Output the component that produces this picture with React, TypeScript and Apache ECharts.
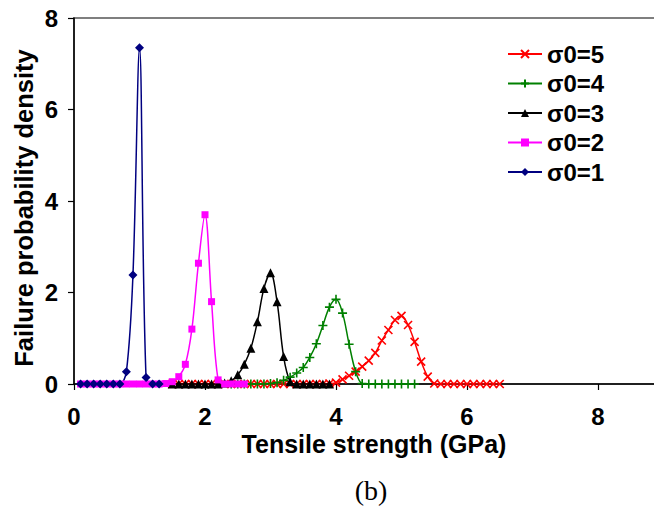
import React, { useEffect, useRef } from "react";
import * as echarts from "echarts";

// σ0=5 (red, x markers)
const s5X = [1.5,1.6,1.7,1.8,1.9,2.0,2.1,2.2,2.3,2.4,2.5,2.6,2.7,2.8,2.9,3.0,3.1,3.2,3.3,3.4,3.5,3.6,3.7,3.8,3.9,4.0,4.1,4.2,4.3,4.4,4.5,4.6,4.7,4.8,4.9,5.0,5.1,5.2,5.3,5.4,5.5,5.6,5.7,5.8,5.9,6.0,6.1,6.2,6.3,6.4,6.5];
const s5Y = [0,0,0,0,0,0,0,0,0,0,0,0,0,0,0,0,0,0,0,0,0,0,0,0,0.01,0.03,0.1,0.18,0.27,0.38,0.51,0.68,0.95,1.18,1.4,1.49,1.29,0.92,0.49,0.16,0.01,0,0,0,0,0,0,0,0,0,0];
// σ0=4 (green, + markers)
const s4X = [2.4,2.5,2.6,2.7,2.8,2.9,3.0,3.1,3.2,3.3,3.4,3.5,3.6,3.7,3.8,3.9,4.0,4.1,4.2,4.3,4.4,4.5,4.6,4.7,4.8,4.9,5.0,5.1,5.2];
const s4Y = [0,0,0,0,0,0,0.01,0.03,0.08,0.15,0.24,0.36,0.58,0.88,1.28,1.68,1.85,1.55,0.87,0.27,0.01,0,0,0,0,0,0,0,0];
// σ0=3 (black, triangles)
const s3X = [1.5,1.6,1.7,1.8,1.9,2.0,2.1,2.2,2.3,2.4,2.5,2.6,2.7,2.8,2.9,3.0,3.1,3.2,3.3,3.4,3.5,3.6,3.7,3.8,3.9];
const s3Y = [0,0,0,0,0,0,0,0,0.02,0.07,0.2,0.43,0.78,1.36,2.09,2.43,1.8,0.6,0.05,0,0,0,0,0,0];
// σ0=2 (magenta, squares)
const s2X = [0.1,0.2,0.3,0.4,0.5,0.6,0.7,0.8,0.9,1.0,1.1,1.2,1.3,1.4,1.5,1.6,1.7,1.8,1.9,2.0,2.1,2.2,2.3,2.4,2.5,2.6];
const s2Y = [0,0,0,0,0,0,0,0,0,0,0,0,0,0.01,0.05,0.16,0.43,1.2,2.64,3.7,1.8,0.09,0,0,0,0];
// σ0=1 (navy, diamonds)
const s1X = [0.1,0.2,0.3,0.4,0.5,0.6,0.7,0.8,0.9,1.0,1.1,1.2,1.3];
const s1Y = [0,0,0,0,0,0,0,0.27,2.38,7.35,0.14,0,0];

const xTicks = { min: 0, max: 10, interval: 2 };
const yTicks = { min: 0, max: 8, interval: 2 };

const FONT = "Liberation Sans";
const CROSS = "path://M0,0L8,8M8,0L0,8";
const PLUS = "path://M4,0L4,8M0,4L8,4";

const pairs = (xs: number[], ys: number[]) => xs.map((x, i) => [x, ys[i]]);

export default function App() {
  const ref = useRef<HTMLDivElement>(null);
  useEffect(() => {
    if (!ref.current) return;
    const chart = echarts.init(ref.current, undefined, { renderer: "svg" });
    const mk = (name: string, xs: number[], ys: number[], color: string, symbol: string, size: number, stroke: boolean) => ({
      name,
      type: "line",
      data: pairs(xs, ys),
      smooth: 0.35,
      symbol,
      symbolSize: size,
      showAllSymbol: true,
      lineStyle: { color, width: 1.5 },
      itemStyle: stroke
        ? { color: color, borderColor: color, borderWidth: 1.6 }
        : { color, borderColor: color, borderWidth: 0 },
      emphasis: { disabled: true },
    });
    chart.setOption({
      animation: false,
      grid: {
        left: 74,
        top: 18,
        width: 655,
        height: 366,
        show: true,
        borderColor: "#555",
        borderWidth: 1.5,
        outerBoundsMode: "none",
        containLabel: false,
      },
      legend: {
        orient: "vertical",
        left: 502,
        top: 37,
        itemWidth: 34,
        itemHeight: 10,
        itemGap: 5.5,
        data: ["σ0=5", "σ0=4", "σ0=3", "σ0=2", "σ0=1"],
        textStyle: { fontFamily: FONT, fontWeight: "bold", fontSize: 24, color: "#000", lineHeight: 24 },
      },
      xAxis: {
        type: "value",
        ...xTicks,
        axisLine: { show: true, onZero: false, lineStyle: { color: "#000", width: 1.5 } },
        axisTick: { show: true, length: 6, lineStyle: { color: "#000", width: 1.2 } },
        axisLabel: { fontFamily: FONT, fontWeight: "bold", fontSize: 24, color: "#000", margin: 20, showMaxLabel: false },
        splitLine: { show: false },
      },
      yAxis: {
        type: "value",
        ...yTicks,
        axisLine: { show: true, lineStyle: { color: "#000", width: 1.5 } },
        axisTick: { show: true, length: 6, lineStyle: { color: "#000", width: 1.2 } },
        axisLabel: { fontFamily: FONT, fontWeight: "bold", fontSize: 24, color: "#000", margin: 16 },
        splitLine: { show: false },
      },
      graphic: [
        {
          type: "text",
          x: 374,
          y: 444,
          style: { text: "Tensile strength (GPa)", fontFamily: FONT, fontWeight: "bold", fontSize: 25, fill: "#000", align: "center", verticalAlign: "middle" },
        },
        {
          type: "text",
          x: 24,
          y: 208,
          rotation: Math.PI / 2,
          style: {
            text: "Failure probability density",
            fontFamily: FONT,
            fontWeight: "bold",
            fontSize: 25.5,
            fill: "#000",
            align: "center",
            verticalAlign: "middle",
          },
        },
        {
          type: "text",
          x: 371,
          y: 490,
          style: { text: "(b)", fontFamily: "Liberation Serif", fontSize: 28, fill: "#000", align: "center", verticalAlign: "middle" },
        },
      ],
      series: [
        mk("σ0=5", s5X, s5Y, "#FF0000", CROSS, 8, true),
        mk("σ0=4", s4X, s4Y, "#008000", PLUS, 9, true),
        mk("σ0=3", s3X, s3Y, "#000000", "triangle", 9, false),
        mk("σ0=2", s2X, s2Y, "#FF00FF", "rect", 7, false),
        mk("σ0=1", s1X, s1Y, "#000080", "diamond", 9, false),
      ],
    });
    return () => chart.dispose();
  }, []);
  return <div ref={ref} style={{ position: "absolute", left: 0, top: 0, width: 654, height: 511, background: "#fff" }} />;
}
